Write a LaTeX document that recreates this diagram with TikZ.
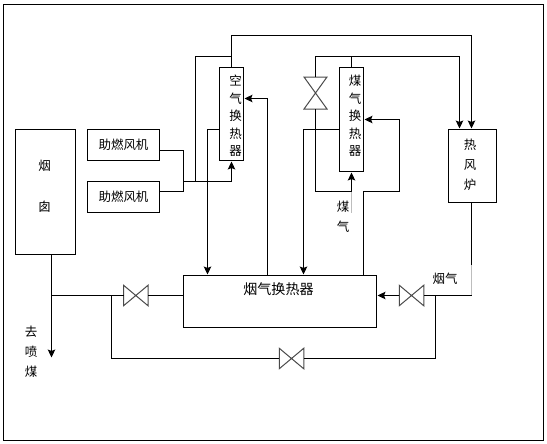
\documentclass[tikz,border=0pt]{standalone}
\usepackage{fontspec}
\newfontfamily\cjk{Noto Sans CJK SC}
\usetikzlibrary{arrows.meta,positioning}
\definecolor{PipeInk}{HTML}{000000}
\definecolor{PipeFade}{HTML}{BDBDBD}
\definecolor{ValveInk}{HTML}{4A4A4A}
\tikzset{
  figlabel/.style={font=\cjk\fontsize{7.1pt}{9.9pt}\selectfont, text=PipeInk, align=center, inner sep=0pt},
  widelabel/.style={figlabel, font=\cjk\fontsize{7.1pt}{11.3pt}\selectfont},
  figbox/.style={draw=PipeInk, line width=0.2mm, fill=white, inner sep=0pt, outer sep=0pt},
  valvebox/.style={inner sep=0pt, outer sep=0pt, minimum width=0.49cm, minimum height=0.41cm},
  valveline/.style={draw=ValveInk, line width=0.2mm, line join=miter},
  figpipe/.style={draw=PipeInk, line width=0.2mm},
  figflow/.style={figpipe, -{Stealth[length=1.6mm,width=1.5mm,inset=0.3mm]}, shorten >=0.02cm},
  figfade/.style={draw=PipeFade, line width=0.2mm}
}
\begin{document}
\begin{tikzpicture}[x=0.02cm,y=-0.02cm]
\useasboundingbox (0,0) rectangle (547,443);
\fill[white] (0,0) rectangle (547,443);
\node[figbox, minimum width=10.8cm, minimum height=8.72cm] (frame) at (273.5,222.5) {};
\node[figbox, minimum width=1.2cm, minimum height=2.5cm] (stack) at (45.5,192) {};
\node[figbox, minimum width=1.44cm, minimum height=0.62cm, figlabel] (fanA) at (123.5,145) {助燃风机};
\node[figbox, minimum width=1.44cm, minimum height=0.62cm, figlabel] (fanB) at (123.5,197) {助燃风机};
\node[figbox, minimum width=0.48cm, minimum height=1.86cm] (airex) at (231.5,114) {};
\node[figbox, minimum width=0.48cm, minimum height=2.08cm] (coalex) at (351.5,119.5) {};
\node[figbox, minimum width=0.96cm, minimum height=1.46cm] (stove) at (472.5,166) {};
\node[figbox, minimum width=3.86cm, minimum height=1.04cm] (fluex) at (280,301.5) {};
\node[valvebox] (valveA) at (135.8,295.5) {};
\node[valvebox] (valveB) at (411.5,295.5) {};
\node[valvebox] (valveC) at (291.5,358.5) {};
\node[valvebox, minimum width=0.46cm, minimum height=0.64cm] (valveD) at (315.5,93) {};
\node[figlabel, font=\cjk\fontsize{7.1pt}{23.2pt}\selectfont] (stacktxt) at (44.5,186.5) {烟\\囱};
\node[figlabel] (airtxt) at (235.5,116) {空\\气\\换\\热\\器};
\node[figlabel] (coaltxt) at (355,116) {煤\\气\\换\\热\\器};
\node[widelabel] (stovetxt) at (470,165) {热\\风\\炉};
\node[widelabel] (coalgas) at (343,217) {煤\\气};
\node[widelabel] (sprayed) at (31,352) {去\\喷\\煤};
\node[figlabel] (fluegas) at (445,279) {烟气};
\node[figlabel, font=\cjk\fontsize{8pt}{9.9pt}\selectfont] (fluetxt) at (278.5,289) {烟气换热器};
\foreach \v in {valveA,valveB,valveC}
  \draw[valveline] (\v.north west) -- (\v.south east) -- (\v.north east) -- (\v.south west) -- cycle;
\draw[valveline] (valveD.north west) -- (valveD.north east) -- (valveD.south west) -- (valveD.south east) -- cycle;
\coordinate (busA) at (183.5,181.5);
\coordinate (stackT) at (51.5,295.5);
\coordinate (loopL) at (111.5,295.5);
\coordinate (loopR) at (435.5,295.5);
\coordinate (hotL) at (195.5,56.5);
\coordinate (airT) at (231.5,56.5);
\coordinate (coalT) at (351.5,56.5);
\coordinate (coalP) at (351.5,191.5);
\coordinate (coalQ) at (351.5,212.5);
\coordinate (sideA) at (207.5,129.5);
\coordinate (sideB) at (303.5,129.5);
\coordinate (riseA) at (267.5,98.5);
\coordinate (riseB) at (363.5,191.5);
\coordinate (riseC) at (399.5,119.5);
\coordinate (stoveP) at (471.5,265);
\coordinate (stoveQ) at (471.5,295.5);
\coordinate (gasR) at (459.5,56.5);
\coordinate (topR) at (471.5,35.5);
\draw[figflow] (stack.south -| stackT) -- (51.5,358.5) coordinate (stackE);
\draw[figpipe] (stackT) -- (valveA.west |- stackT);
\draw[figpipe] (valveA.east) -- (fluex.west |- valveA.east);
\draw[figpipe] (loopL) |- (valveC.west);
\draw[figpipe] (valveC.east) -| (loopR);
\draw[figpipe] (stove.south -| stoveP) -- (stoveP);
\draw[figfade] (stoveP) -- (stoveQ);
\draw[figpipe] (stoveQ) -- (valveB.east);
\draw[figflow] (valveB.west) -- (fluex.east |- valveB.west);
\draw[figpipe] (fanA.east |- 0,150.5) -| (busA);
\draw[figpipe] (fanB.east |- 0,191.5) -| (busA);
\draw[figflow] (busA) -| (airex.south -| airT);
\draw[figpipe] (hotL |- busA) -- (hotL) -- (airT);
\draw[figflow] (airex.north -| airT) |- (topR) -- (stove.north -| topR);
\draw[figpipe] (coalex.north -| coalT) -- (coalT);
\draw[figpipe] (valveD.north) |- (coalT);
\draw[figflow] (coalT) -- (gasR) -- (stove.north -| gasR);
\draw[figpipe] (valveD.south) |- (coalP);
\draw[figflow] (coalP) -- (coalex.south -| coalP);
\draw[figfade] (coalP) -- (coalQ);
\draw[figflow] (airex.west |- sideA) -- (sideA) -- (fluex.north -| sideA);
\draw[figflow] (coalex.west |- sideB) -- (sideB) -- (fluex.north -| sideB);
\draw[figflow] (fluex.north -| riseA) -- (riseA) -- (airex.east |- riseA);
\draw[figflow] (fluex.north -| riseB) -- (riseB) -- (riseC |- riseB) -- (riseC) -- (coalex.east |- riseC);
\end{tikzpicture}
\end{document}
